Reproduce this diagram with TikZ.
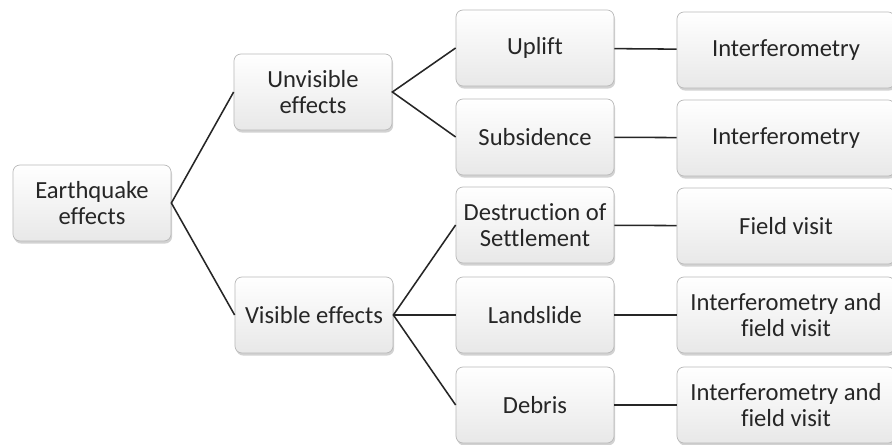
\documentclass[tikz,border=0pt]{standalone}
\usepackage{fontspec}
\setmainfont[Ligatures=NoCommon]{Carlito}
\usetikzlibrary{shadows}

\tikzset{
	effect/.style={draw=gray!55, line width=0.5pt, rounded corners=5pt,
		top color=white, bottom color=gray!18, text=black!85,
		align=center, font=\fontsize{17.5}{19}\selectfont,
		minimum width=3.95cm, minimum height=1.9cm, inner sep=2pt,
		drop shadow={opacity=0.35, shadow xshift=0.8pt, shadow yshift=-1.8pt}},
	link/.style={draw=black!85, line width=1.1pt}
}

\begin{document}
\begin{tikzpicture}[x=0.025cm, y=-0.025cm]
	
	\clip (0,0) rectangle (892,445);
	\fill[white] (0,0) rectangle (892,445);
	
	%root
	\node[effect] (eq) at (92,203){Earthquake\\effects};
	
	%first level
	\node[effect] (unvis) at (313,92){Unvisible\\effects};
	\node[effect] (vis) at (314,315){Visible effects};
	
	%second level
	\node[effect] (uplift) at (535,48){Uplift};
	\node[effect] (subs) at (535,137){Subsidence};
	\node[effect] (destr) at (535,225){Destruction of\\Settlement};
	\node[effect] (land) at (535,315){Landslide};
	\node[effect] (debris) at (535,405){Debris};
	
	%methods
	\node[effect, minimum width=5.45cm] (m1) at (786,50){Interferometry};
	\node[effect, minimum width=5.45cm] (m2) at (786,138){Interferometry};
	\node[effect, minimum width=5.45cm] (m3) at (786,226){Field visit};
	\node[effect, minimum width=5.45cm] (m4) at (786,315){Interferometry and\\field visit};
	\node[effect, minimum width=5.45cm] (m5) at (786,405){Interferometry and\\field visit};
	
	%links
	\draw[link] (unvis.west) -- (eq.east) -- (vis.west);
	\draw[link] (uplift.west) -- (unvis.east) -- (subs.west);
	\draw[link] (destr.west) -- (vis.east) -- (debris.west);
	\draw[link] (vis.east) -- (land.west);
	\draw[link] (uplift) -- (m1);
	\draw[link] (subs) -- (m2);
	\draw[link] (destr) -- (m3);
	\draw[link] (land) -- (m4);
	\draw[link] (debris) -- (m5);
	
\end{tikzpicture}
\end{document}
